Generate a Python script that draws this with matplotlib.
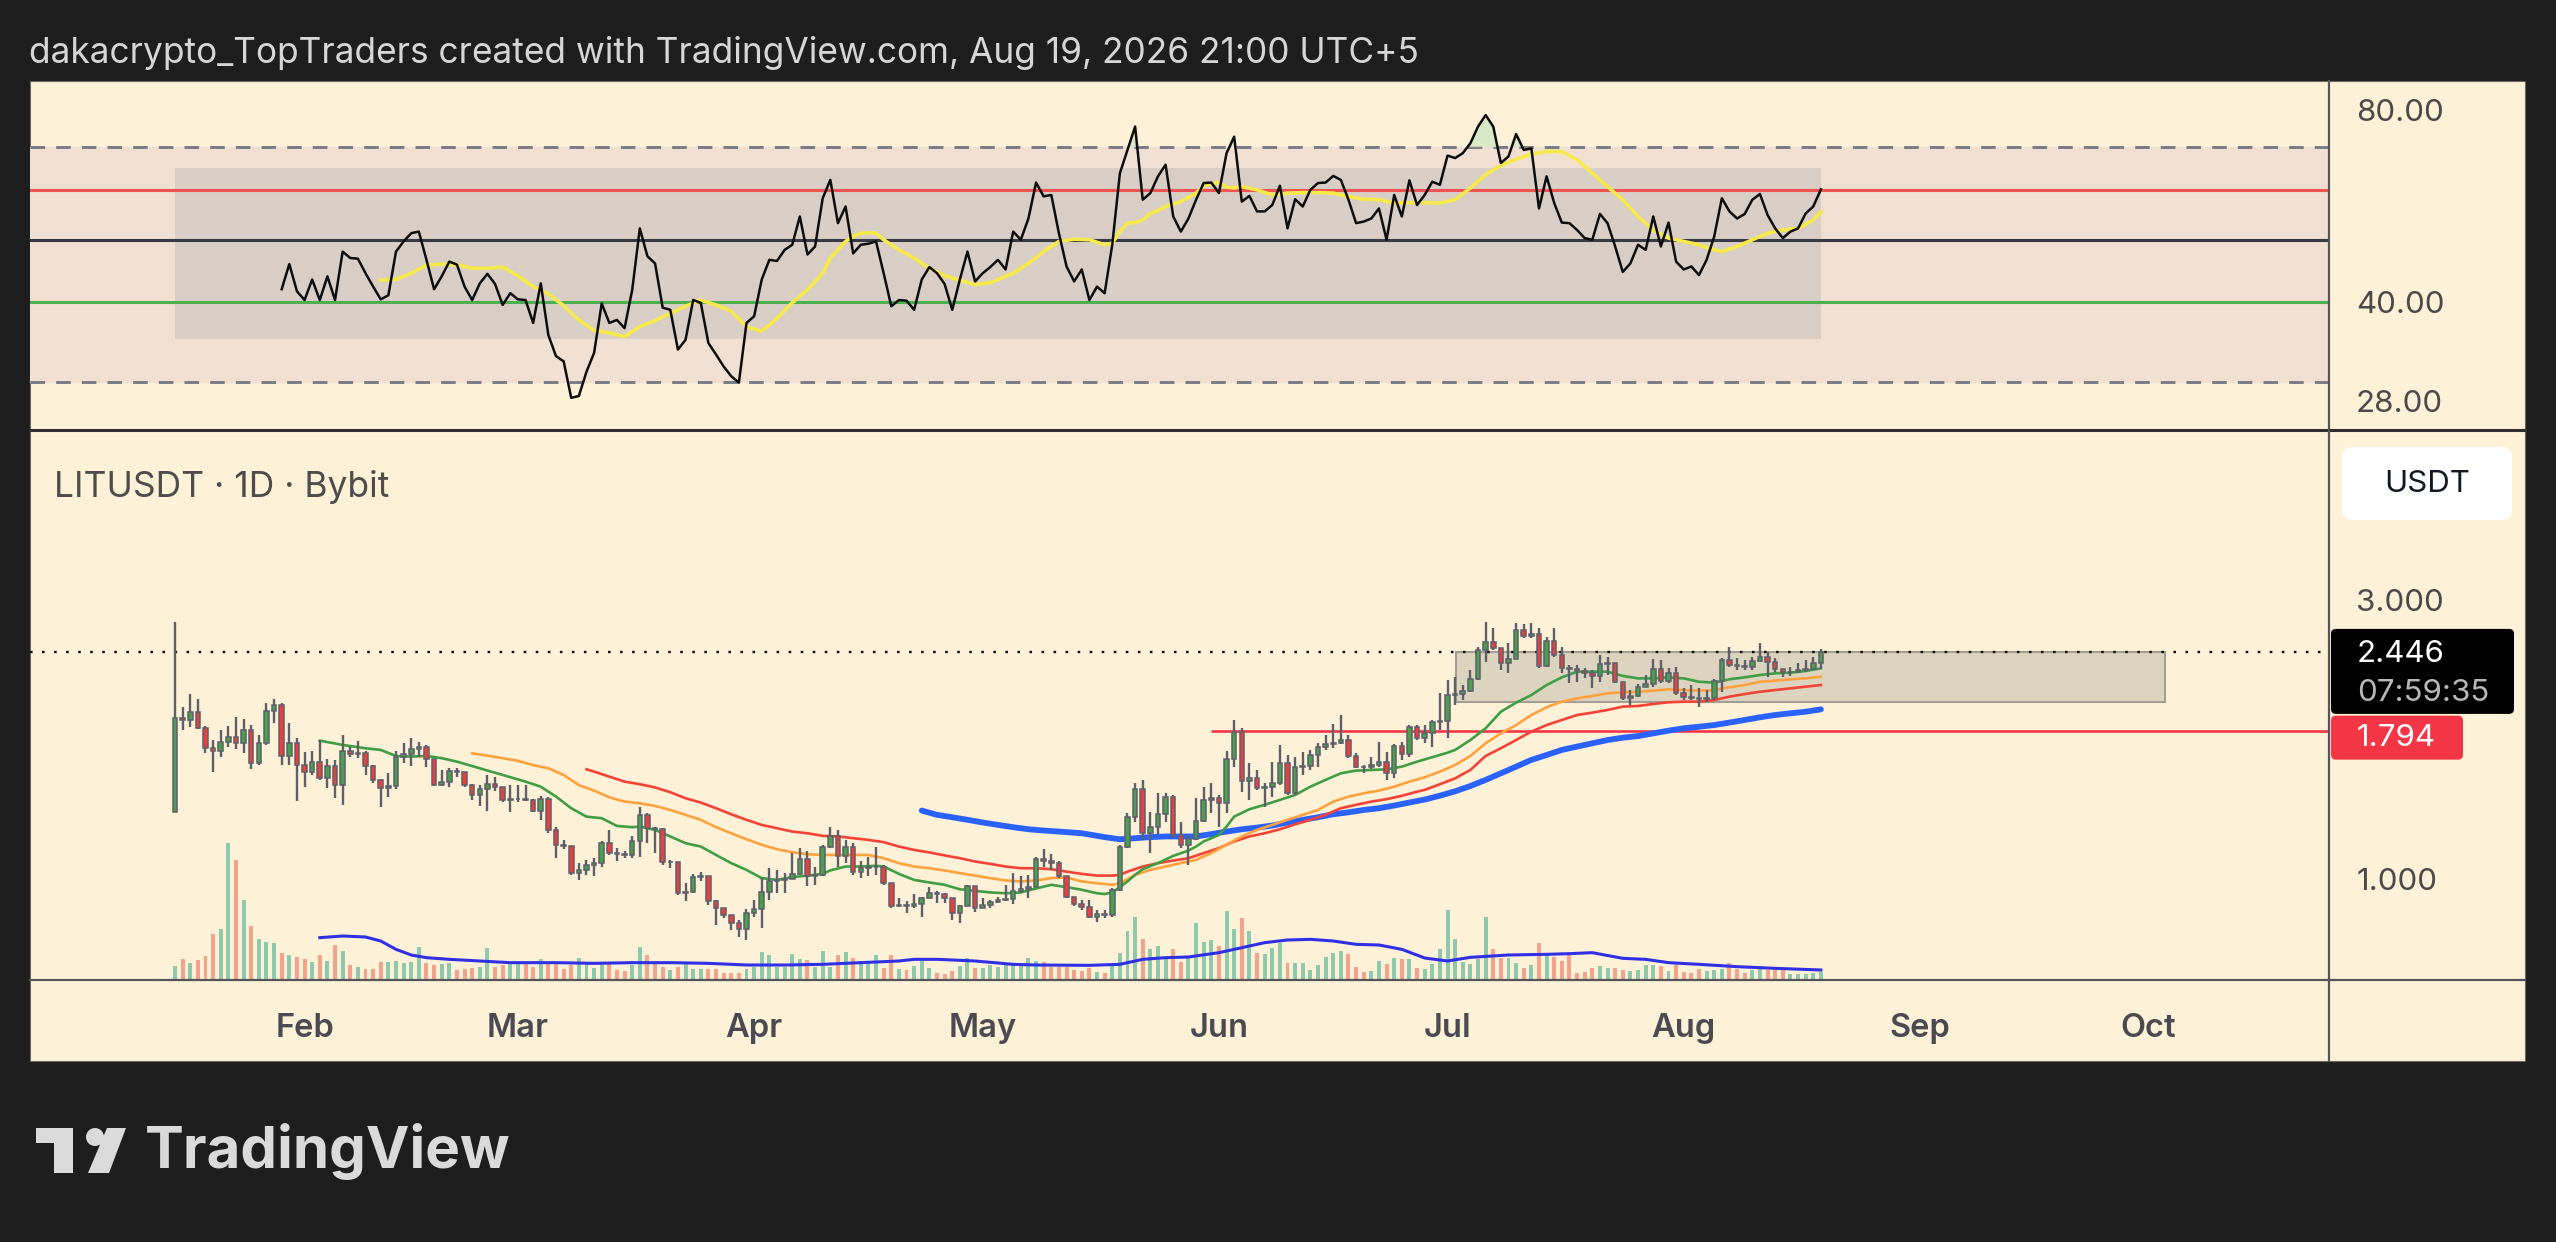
import numpy as np
import pandas as pd
import matplotlib
matplotlib.use('Agg')
import matplotlib.pyplot as plt
import matplotlib.dates as mdates
import matplotlib.ticker as mticker
from matplotlib.lines import Line2D
from matplotlib.patches import FancyBboxPatch, Rectangle, Polygon, Circle
from matplotlib.transforms import IdentityTransform

plt.rcParams['font.family'] = ['Inter', 'DejaVu Sans']

# ---------------- DATA (LITUSDT 1D, Bybit) ----------------
start_date = '2026-01-15'
first_open = 1.305
closes = [1.883, 1.871, 1.933, 1.811, 1.674, 1.659, 1.718, 1.747, 1.711, 1.799,
          1.582, 1.707, 1.941, 1.982, 1.624, 1.707, 1.567, 1.527, 1.584, 1.487,
          1.563, 1.448, 1.659, 1.637, 1.641, 1.561, 1.478, 1.430, 1.443, 1.620,
          1.637, 1.667, 1.685, 1.603, 1.448, 1.468, 1.533, 1.527, 1.448, 1.393,
          1.424, 1.454, 1.439, 1.366, 1.370, 1.371, 1.366, 1.310, 1.371, 1.214,
          1.145, 1.140, 1.024, 1.035, 1.058, 1.065, 1.152, 1.108, 1.105, 1.098,
          1.164, 1.288, 1.225, 1.217, 1.068, 1.069, 0.946, 0.950, 1.008, 1.011,
          0.916, 0.892, 0.869, 0.843, 0.821, 0.875, 0.888, 0.950, 0.991, 0.995,
          1.001, 1.021, 1.083, 1.014, 1.016, 1.137, 1.185, 1.096, 1.137, 1.027,
          1.044, 1.051, 1.051, 0.984, 0.898, 0.904, 0.901, 0.907, 0.928, 0.946,
          0.944, 0.928, 0.875, 0.898, 0.972, 0.892, 0.904, 0.913, 0.922, 0.924,
          0.953, 0.961, 0.969, 1.082, 1.076, 1.065, 1.011, 0.934, 0.907, 0.895,
          0.863, 0.872, 0.869, 0.959, 1.134, 1.279, 1.426, 1.198, 1.227, 1.292,
          1.380, 1.190, 1.145, 1.170, 1.259, 1.366, 1.375, 1.348, 1.603, 1.787,
          1.474, 1.487, 1.430, 1.435, 1.462, 1.578, 1.402, 1.557, 1.563, 1.630,
          1.681, 1.703, 1.711, 1.729, 1.624, 1.557, 1.553, 1.567, 1.588, 1.521,
          1.692, 1.637, 1.822, 1.740, 1.780, 1.859, 1.866, 2.065, 2.072, 2.100,
          2.199, 2.464, 2.546, 2.481, 2.344, 2.375, 2.666, 2.604, 2.621, 2.314,
          2.556, 2.416, 2.293, 2.284, 2.272, 2.248, 2.225, 2.332, 2.338, 2.175,
          2.037, 2.056, 2.133, 2.155, 2.287, 2.181, 2.254, 2.078, 2.045, 2.043,
          2.032, 2.043, 2.184, 2.369, 2.323, 2.314, 2.302, 2.357, 2.400, 2.353,
          2.284, 2.260, 2.263, 2.278, 2.287, 2.338, 2.446]
highs = [2.755, 1.967, 2.070, 2.032, 1.827, 1.729, 1.799, 1.827, 1.891, 1.876,
         1.834, 1.763, 1.998, 2.032, 1.998, 1.847, 1.740, 1.652, 1.659, 1.729,
         1.603, 1.599, 1.763, 1.685, 1.725, 1.659, 1.567, 1.482, 1.517, 1.659,
         1.711, 1.745, 1.718, 1.696, 1.603, 1.537, 1.547, 1.551, 1.521, 1.454,
         1.448, 1.507, 1.497, 1.439, 1.448, 1.448, 1.448, 1.370, 1.388, 1.380,
         1.230, 1.167, 1.140, 1.065, 1.079, 1.086, 1.160, 1.214, 1.130, 1.119,
         1.186, 1.327, 1.299, 1.230, 1.222, 1.079, 1.065, 0.984, 1.021, 1.027,
         1.004, 0.922, 0.892, 0.869, 0.852, 0.888, 0.922, 1.004, 1.044, 1.037,
         1.024, 1.108, 1.130, 1.115, 1.051, 1.145, 1.230, 1.214, 1.167, 1.152,
         1.072, 1.093, 1.137, 1.058, 0.984, 0.928, 0.916, 0.944, 0.934, 0.969,
         0.953, 0.946, 0.922, 0.904, 0.978, 0.972, 0.928, 0.922, 0.934, 0.978,
         1.024, 1.011, 1.017, 1.093, 1.125, 1.105, 1.072, 1.011, 0.928, 0.922,
         0.922, 0.886, 0.886, 0.966, 1.145, 1.296, 1.462, 1.478, 1.305, 1.402,
         1.406, 1.393, 1.254, 1.190, 1.375, 1.439, 1.458, 1.393, 1.659, 1.871,
         1.811, 1.578, 1.537, 1.458, 1.588, 1.696, 1.630, 1.620, 1.652, 1.663,
         1.707, 1.763, 1.842, 1.908, 1.763, 1.645, 1.567, 1.620, 1.718, 1.652,
         1.703, 1.718, 1.834, 1.834, 1.834, 1.871, 2.078, 2.190, 2.213, 2.147,
         2.278, 2.497, 2.755, 2.684, 2.481, 2.530, 2.737, 2.730, 2.737, 2.684,
         2.597, 2.684, 2.497, 2.323, 2.323, 2.293, 2.278, 2.416, 2.394, 2.323,
         2.175, 2.105, 2.155, 2.233, 2.375, 2.369, 2.293, 2.308, 2.119, 2.147,
         2.119, 2.105, 2.196, 2.384, 2.497, 2.384, 2.369, 2.394, 2.530, 2.448,
         2.384, 2.278, 2.308, 2.344, 2.369, 2.400, 2.470]
lows = [1.305, 1.799, 1.822, 1.804, 1.641, 1.527, 1.620, 1.685, 1.667, 1.641,
        1.541, 1.567, 1.696, 1.852, 1.567, 1.567, 1.362, 1.439, 1.507, 1.478,
        1.430, 1.375, 1.340, 1.620, 1.610, 1.507, 1.462, 1.331, 1.384, 1.424,
        1.578, 1.561, 1.620, 1.557, 1.443, 1.443, 1.439, 1.497, 1.439, 1.366,
        1.334, 1.310, 1.417, 1.357, 1.305, 1.357, 1.362, 1.305, 1.263, 1.198,
        1.086, 1.125, 1.017, 0.995, 1.017, 1.011, 1.051, 1.100, 1.072, 1.086,
        1.086, 1.093, 1.152, 1.108, 1.058, 1.044, 0.940, 0.916, 0.946, 0.991,
        0.904, 0.836, 0.858, 0.819, 0.796, 0.788, 0.863, 0.825, 0.922, 0.946,
        0.946, 1.004, 1.017, 0.972, 0.978, 1.014, 1.130, 1.051, 1.065, 1.017,
        1.004, 1.011, 1.017, 0.978, 0.892, 0.895, 0.875, 0.892, 0.863, 0.928,
        0.910, 0.910, 0.852, 0.841, 0.898, 0.880, 0.892, 0.892, 0.910, 0.916,
        0.907, 0.946, 0.928, 0.966, 1.051, 1.037, 1.004, 0.928, 0.898, 0.886,
        0.858, 0.846, 0.858, 0.863, 0.953, 1.130, 1.254, 1.167, 1.108, 1.190,
        1.254, 1.175, 1.130, 1.058, 1.167, 1.254, 1.296, 1.230, 1.296, 1.557,
        1.411, 1.366, 1.421, 1.331, 1.384, 1.448, 1.393, 1.393, 1.507, 1.537,
        1.557, 1.663, 1.674, 1.703, 1.610, 1.547, 1.517, 1.541, 1.557, 1.478,
        1.487, 1.599, 1.620, 1.729, 1.707, 1.685, 1.799, 1.740, 1.985, 2.024,
        2.091, 2.190, 2.353, 2.464, 2.278, 2.248, 2.375, 2.580, 2.580, 2.293,
        2.308, 2.400, 2.248, 2.161, 2.175, 2.204, 2.119, 2.175, 2.233, 2.161,
        2.024, 1.985, 2.051, 2.133, 2.128, 2.161, 2.161, 2.064, 2.024, 2.024,
        1.972, 2.011, 2.024, 2.091, 2.308, 2.278, 2.278, 2.278, 2.353, 2.219,
        2.263, 2.213, 2.225, 2.248, 2.263, 2.278, 2.284]
volumes = [42, 62, 50, 59, 72, 137, 152, 410, 359, 240,
           162, 122, 115, 110, 80, 74, 69, 62, 54, 74,
           57, 105, 87, 45, 39, 33, 33, 54, 54, 57,
           52, 55, 99, 52, 45, 49, 52, 30, 32, 35,
           39, 95, 39, 45, 49, 49, 52, 39, 62, 49,
           49, 32, 45, 65, 52, 35, 55, 55, 29, 27,
           45, 99, 75, 47, 40, 30, 39, 47, 34, 32,
           32, 34, 22, 20, 20, 34, 40, 84, 74, 40,
           39, 77, 62, 59, 40, 87, 39, 75, 84, 65,
           57, 55, 74, 35, 74, 34, 29, 42, 57, 35,
           20, 17, 27, 42, 67, 37, 37, 45, 40, 52,
           52, 42, 65, 57, 55, 40, 39, 39, 30, 27,
           37, 24, 22, 47, 80, 147, 189, 122, 92, 102,
           62, 92, 55, 65, 172, 114, 119, 102, 207, 152,
           185, 147, 82, 77, 95, 112, 52, 52, 50, 30,
           45, 69, 82, 87, 77, 39, 24, 27, 57, 49,
           67, 62, 62, 37, 32, 47, 92, 209, 122, 55,
           47, 62, 189, 92, 67, 65, 52, 37, 45, 110,
           75, 69, 57, 77, 22, 24, 35, 42, 35, 35,
           29, 27, 29, 45, 45, 42, 27, 45, 24, 22,
           32, 27, 29, 32, 50, 32, 22, 29, 32, 29,
           32, 29, 19, 17, 19, 22, 25]
vol_ma_days = [19, 22, 25, 27, 29, 31, 33, 36, 40, 44, 50, 55, 60, 65, 70, 75, 80, 85,
               90, 95, 97, 100, 105, 110, 113, 120, 124, 127, 130, 133, 137, 140, 143,
               146, 149, 152, 155, 158, 161, 164, 167, 170, 175, 180, 183, 186, 190,
               193, 196, 200, 205, 210, 216]
vol_ma = [127, 132, 129, 117, 92, 75, 67, 62, 57, 52, 52, 50, 52, 52, 50, 45, 45, 47,
          52, 57, 62, 62, 57, 47, 45, 44, 47, 62, 67, 69, 82, 97, 112,
          120, 122, 117, 107, 105, 92, 66, 57, 68, 75, 77, 79, 82, 65,
          62, 52, 47, 40, 35, 30]

# moving averages on price (day index, value)
ema_green_days = [19, 22, 25, 27, 29, 31, 33, 35, 37, 40, 43, 46, 48, 50, 52, 54, 56, 58,
                  60, 61, 63, 65, 67, 69, 71, 73, 75, 77, 79, 81, 83, 85, 86, 88, 90,
                  92, 93, 95, 97, 99, 101, 103, 105, 107, 109, 111, 113, 115, 117, 119,
                  121, 122, 123, 124, 125, 126, 127, 129, 131, 133, 134, 135, 137, 138,
                  139, 141, 143, 145, 147, 149, 151, 153, 155, 157, 159, 161, 163, 165,
                  167, 168, 170, 172, 174, 176, 178, 180, 182, 184, 186, 188, 190, 192,
                  194, 196, 198, 200, 202, 204, 206, 208, 210, 212, 214, 216]
ema_green = [1.725, 1.696, 1.674, 1.663, 1.624, 1.620, 1.624, 1.610, 1.588, 1.547,
             1.507, 1.468, 1.439, 1.384, 1.322, 1.279, 1.271, 1.233, 1.227, 1.230,
             1.214, 1.183, 1.152, 1.137, 1.100, 1.065, 1.037, 1.004, 0.997, 1.008,
             1.014, 1.021, 1.035, 1.051, 1.051, 1.054, 1.051, 1.021, 0.997, 0.987,
             0.978, 0.961, 0.955, 0.949, 0.946, 0.949, 0.964, 0.978, 0.969, 0.959,
             0.946, 0.943, 0.949, 0.969, 0.991, 1.017, 1.040, 1.065, 1.096, 1.119,
             1.137, 1.160, 1.190, 1.230, 1.279, 1.317, 1.340, 1.366, 1.393, 1.439,
             1.478, 1.517, 1.533, 1.537, 1.541, 1.557, 1.588, 1.616, 1.645, 1.663,
             1.729, 1.811, 1.933, 2.003, 2.064, 2.147, 2.213, 2.263, 2.263, 2.263,
             2.225, 2.204, 2.204, 2.213, 2.204, 2.175, 2.167, 2.196, 2.213, 2.233,
             2.248, 2.254, 2.269, 2.293]
ema_orange_days = [39, 41, 43, 45, 47, 49, 51, 53, 55, 57, 59, 61, 63, 65, 67, 69, 71, 73,
                   75, 77, 79, 81, 83, 85, 87, 89, 91, 93, 95, 97, 99, 101, 103, 105,
                   107, 109, 111, 113, 115, 117, 119, 121, 123, 124, 125, 126, 128, 130,
                   132, 134, 136, 138, 140, 142, 144, 146, 148, 150, 152, 154, 156, 158,
                   160, 162, 164, 166, 168, 170, 172, 174, 176, 178, 180, 182, 184, 186,
                   188, 190, 192, 194, 196, 198, 200, 202, 204, 206, 208, 210, 212, 214,
                   216]
ema_orange = [1.641, 1.626, 1.610, 1.593, 1.567, 1.547, 1.507, 1.448, 1.417, 1.380,
              1.357, 1.348, 1.334, 1.313, 1.288, 1.263, 1.227, 1.198, 1.170, 1.145,
              1.125, 1.112, 1.103, 1.100, 1.100, 1.100, 1.100, 1.086, 1.065, 1.051,
              1.044, 1.035, 1.024, 1.014, 1.004, 0.995, 0.991, 0.995, 1.004, 1.007,
              0.991, 0.984, 0.978, 0.984, 1.000, 1.017, 1.037, 1.051, 1.065, 1.079,
              1.108, 1.145, 1.183, 1.214, 1.238, 1.263, 1.288, 1.313, 1.357, 1.384,
              1.402, 1.417, 1.439, 1.468, 1.493, 1.527, 1.567, 1.624, 1.707, 1.775,
              1.834, 1.908, 1.967, 2.011, 2.037, 2.056, 2.078, 2.086, 2.091, 2.100,
              2.111, 2.105, 2.100, 2.105, 2.128, 2.147, 2.175, 2.184, 2.196, 2.204,
              2.219]
ema_red_days = [54, 55, 57, 59, 61, 63, 65, 67, 69, 71, 73, 75, 77, 79, 81, 83, 85, 87,
                89, 91, 93, 95, 97, 99, 101, 103, 105, 107, 109, 111, 113, 115, 117, 119,
                121, 123, 124, 125, 127, 129, 131, 133, 135, 137, 139, 141, 143, 145,
                147, 149, 151, 153, 155, 157, 159, 161, 163, 164, 166, 168, 170, 172,
                174, 176, 178, 180, 182, 184, 186, 188, 190, 192, 194, 196, 198, 200,
                202, 204, 206, 208, 210, 212, 214, 216]
ema_red = [1.541, 1.527, 1.497, 1.468, 1.453, 1.435, 1.408, 1.375, 1.352, 1.322,
           1.291, 1.263, 1.238, 1.222, 1.206, 1.198, 1.186, 1.183, 1.175, 1.167,
           1.157, 1.137, 1.122, 1.111, 1.098, 1.086, 1.072, 1.062, 1.051, 1.044,
           1.044, 1.040, 1.030, 1.021, 1.014, 1.014, 1.017, 1.030, 1.051, 1.065,
           1.076, 1.086, 1.108, 1.130, 1.160, 1.183, 1.198, 1.217, 1.241, 1.263,
           1.288, 1.322, 1.340, 1.357, 1.370, 1.388, 1.411, 1.421, 1.453, 1.487,
           1.537, 1.624, 1.674, 1.729, 1.787, 1.834, 1.871, 1.908, 1.926, 1.946,
           1.972, 1.977, 1.993, 2.006, 2.011, 2.011, 2.024, 2.051, 2.072, 2.091,
           2.105, 2.119, 2.133, 2.147]
ema_blue_days = [98, 100, 102, 104, 106, 108, 110, 112, 114, 116, 119, 122, 124, 126, 128,
                 130, 132, 134, 136, 138, 140, 142, 144, 146, 148, 150, 152, 154, 156,
                 158, 160, 162, 164, 166, 168, 170, 172, 174, 176, 178, 180, 182, 184,
                 186, 188, 190, 192, 194, 196, 198, 200, 202, 204, 206, 208, 210, 212,
                 214, 216]
ema_blue = [1.310, 1.288, 1.276, 1.263, 1.250, 1.238, 1.227, 1.217, 1.211, 1.206,
            1.198, 1.180, 1.170, 1.175, 1.180, 1.183, 1.183, 1.183, 1.194, 1.206,
            1.217, 1.225, 1.235, 1.250, 1.263, 1.276, 1.291, 1.301, 1.313, 1.322,
            1.336, 1.352, 1.368, 1.389, 1.413, 1.443, 1.478, 1.517, 1.557, 1.599,
            1.630, 1.663, 1.685, 1.707, 1.729, 1.745, 1.756, 1.775, 1.794, 1.811,
            1.822, 1.834, 1.852, 1.871, 1.891, 1.908, 1.921, 1.933, 1.951]

# RSI (14) from day 14, and its moving average
rsi_first_day = 14
rsi = [41.9, 45.9, 41.6, 40.3, 43.4, 40.3, 43.9, 40.3, 48.0, 46.9,
       46.8, 44.4, 42.3, 40.4, 41.0, 48.0, 49.8, 51.3, 51.6, 46.6,
       41.9, 43.9, 46.3, 45.8, 42.3, 40.3, 42.8, 44.3, 42.7, 39.6,
       41.3, 40.4, 40.3, 37.1, 42.8, 35.5, 32.9, 32.3, 28.3, 28.5,
       31.1, 33.3, 39.8, 37.1, 37.5, 36.4, 41.8, 52.2, 47.2, 46.0,
       39.2, 38.9, 33.7, 34.9, 40.3, 39.9, 34.5, 33.1, 31.7, 30.6,
       29.9, 37.1, 38.0, 43.4, 46.6, 46.4, 48.3, 49.2, 54.5, 47.5,
       48.9, 58.2, 62.2, 53.2, 56.5, 47.7, 49.2, 49.4, 49.8, 44.4,
       39.4, 40.3, 40.2, 38.9, 43.4, 45.4, 44.4, 42.7, 38.9, 43.4,
       48.0, 43.1, 44.4, 45.4, 46.6, 45.0, 51.6, 50.1, 54.1, 61.6,
       58.6, 58.9, 51.3, 45.5, 43.1, 45.0, 40.3, 42.3, 41.3, 49.2,
       63.7, 69.3, 75.4, 57.9, 59.3, 63.0, 65.7, 54.5, 51.6, 54.1,
       57.9, 61.5, 61.6, 59.3, 68.5, 72.7, 57.5, 58.7, 55.5, 55.5,
       56.8, 60.9, 52.2, 58.0, 56.5, 60.0, 61.5, 61.6, 63.1, 62.2,
       57.9, 53.2, 53.5, 54.1, 56.1, 50.1, 58.9, 54.5, 62.1, 56.8,
       58.9, 61.8, 61.1, 67.9, 67.3, 68.5, 71.0, 75.4, 78.6, 75.4,
       66.1, 67.7, 73.4, 69.3, 69.7, 56.1, 63.0, 57.2, 53.3, 53.2,
       51.9, 50.4, 50.1, 55.0, 53.2, 48.9, 44.6, 46.0, 49.2, 48.3,
       54.5, 48.9, 53.3, 46.3, 45.0, 45.5, 44.1, 46.6, 50.7, 58.2,
       55.5, 54.1, 55.0, 57.9, 59.1, 54.8, 52.2, 50.4, 51.6, 52.2,
       55.1, 56.5, 60.1]
rsi_ma_days = [27, 29, 31, 33, 35, 37, 39, 41, 43, 45, 47, 49, 51, 53, 55, 57, 59, 61,
               63, 65, 67, 69, 71, 73, 75, 77, 79, 81, 83, 85, 86, 87, 88, 89, 90, 91,
               92, 93, 95, 97, 99, 101, 103, 105, 107, 108, 110, 112, 114, 116, 118,
               120, 122, 123, 124, 125, 126, 127, 128, 129, 130, 132, 134, 135, 136,
               137, 138, 139, 140, 142, 144, 146, 148, 150, 152, 154, 156, 158, 160,
               162, 164, 166, 168, 170, 172, 174, 176, 178, 180, 182, 184, 186, 188,
               190, 192, 194, 196, 198, 200, 202, 203, 205, 207, 209, 211, 213, 215, 216]
rsi_ma = [43.3, 43.4, 44.4, 45.7, 45.9, 45.8, 45.2, 45.2, 45.4, 44.0,
          42.3, 41.2, 39.5, 37.5, 36.1, 35.8, 35.3, 36.6, 37.4, 38.4,
          39.4, 40.3, 39.6, 38.7, 36.6, 36.0, 37.7, 39.9, 41.8, 44.4,
          46.9, 48.3, 49.8, 50.7, 51.3, 51.4, 51.3, 50.1, 48.3, 46.9,
          45.2, 44.0, 43.3, 42.6, 42.9, 43.4, 44.4, 46.0, 48.0, 49.8,
          50.2, 50.1, 49.2, 49.5, 51.6, 53.2, 53.3, 53.8, 55.1, 55.7,
          56.5, 57.5, 59.3, 60.9, 61.3, 61.6, 60.6, 60.4, 60.7, 60.0,
          58.9, 59.3, 59.4, 59.4, 59.3, 58.6, 58.0, 57.9, 57.2, 57.3,
          57.3, 57.2, 57.9, 60.4, 63.4, 65.5, 67.0, 68.3, 68.9, 68.9,
          66.9, 63.7, 60.7, 57.9, 54.5, 51.9, 50.4, 49.8, 49.2, 48.3,
          48.0, 48.9, 50.1, 51.3, 51.9, 52.2, 53.8, 55.4]
rsi_levels = [70, 60, 50, 40, 30]
rsi_box = [35, 65]
rsi_ticks = [28, 40, 80]

# drawings on the price pane
level_price = 1.794
level_start_day = 136
zone_days = [168.1, 261.2]
zone_prices = [2.010, 2.448]
price_ticks = [1.0, 3.0]
month_names = ['Feb', 'Mar', 'Apr', 'May', 'Jun', 'Jul', 'Aug', 'Sep', 'Oct']
countdown = '07:59:35'
title = 'dakacrypto_TopTraders created with TradingView.com, Aug 19, 2026 21:00 UTC+5'
symbol = 'LITUSDT \u00b7 1D \u00b7 Bybit'

# ---------------- LAYOUT ----------------
W, H = 2556, 1242
BG = '#1e1e1e'
CREAM = '#fdf1d7'
fig = plt.figure(figsize=(W / 100, H / 100), dpi=100, facecolor=BG)


def box(x0, y0, x1, y1):
    # pixel box, top-left origin -> figure fraction rect
    return [x0 / W, 1 - y1 / H, (x1 - x0) / W, (y1 - y0) / H]


def fline(x0, y0, x1, y1, color, lw):
    fig.add_artist(Line2D([x0 / W, x1 / W], [1 - y0 / H, 1 - y1 / H],
                          transform=fig.transFigure, color=color, lw=lw, zorder=5))


panel = Rectangle((30 / W, 1 - 1061 / H), 2495 / W, 980 / H,
                  transform=fig.transFigure, fc=CREAM, ec='#6a6a6a', lw=0.8, zorder=-5)
fig.add_artist(panel)

base = mdates.date2num(pd.Timestamp(start_date))
n = len(closes)
x = base + np.arange(n)
xlim = (base - 19.03, base + 282.68)

closes = np.array(closes)
highs = np.array(highs)
lows = np.array(lows)
opens = np.r_[first_open, closes[:-1]]
up = closes >= opens

# ---------------- RSI pane ----------------
ax_r = fig.add_axes(box(30, 81, 2329, 430))
ax_r.set_facecolor('none')
ax_r.set_yscale('log')
ax_r.set_ylim(25.2, 88.9)
ax_r.set_xlim(*xlim)
ax_r.axhspan(rsi_levels[-1], rsi_levels[0], color='#f1e0d2', zorder=0)
ax_r.fill_between([x[0], x[-1]], rsi_box[0], rsi_box[1], color='#d8cec6', lw=0, zorder=1)
ax_r.axhline(rsi_levels[0], color='#787b86', lw=2.1, ls=(0, (5, 3.8)), zorder=2)
ax_r.axhline(rsi_levels[4], color='#787b86', lw=2.1, ls=(0, (5, 3.8)), zorder=2)
ax_r.axhline(rsi_levels[1], color='#f05350', lw=2.2, zorder=2)
ax_r.axhline(rsi_levels[2], color='#363a45', lw=2.2, zorder=2)
ax_r.axhline(rsi_levels[3], color='#4caf50', lw=2.2, zorder=2)
rx = base + rsi_first_day + np.arange(len(rsi))
rv = np.array(rsi)
ax_r.fill_between(rx, rsi_levels[0], rv, where=rv > rsi_levels[0],
                  interpolate=True, color='#cfe8c5', alpha=0.8, lw=0, zorder=2)
ax_r.plot(base + np.array(rsi_ma_days), rsi_ma, color='#f7e94a', lw=2.6, zorder=3)
ax_r.plot(rx, rv, color='#0d0d0d', lw=1.8, zorder=4)
ax_r.yaxis.tick_right()
ax_r.set_yticks(rsi_ticks)
ax_r.set_yticklabels(['%.2f' % t for t in rsi_ticks])
ax_r.yaxis.set_minor_locator(mticker.NullLocator())
ax_r.tick_params(axis='y', length=0, pad=19.5, labelsize=22.5, labelcolor='#4a4a4a')
ax_r.set_xticks([])
for s in ax_r.spines.values():
    s.set_visible(False)

# ---------------- price pane ----------------
ax_v = fig.add_axes(box(30, 430, 2329, 980))
ax_v.set_facecolor('none')
ax_v.set_xlim(*xlim)
ax_v.set_ylim(0, 1650)
vcol = np.where(up, '#8ec9ae', '#f2a38c')
ax_v.bar(x, volumes, width=0.52, color=vcol, lw=0)
ax_v.plot(base + np.array(vol_ma_days), vol_ma, color='#2f2fe6', lw=2.2)
ax_v.set_xticks([])
ax_v.set_yticks([])
for s in ax_v.spines.values():
    s.set_visible(False)

ax = fig.add_axes(box(30, 430, 2329, 980))
ax.set_facecolor('none')
ax.set_yscale('log')
ax.set_ylim(0.6724, 5.858)
ax.set_xlim(*xlim)

ax.add_patch(Rectangle((base + zone_days[0], zone_prices[0]), zone_days[1] - zone_days[0],
                       zone_prices[1] - zone_prices[0], fc='#ddd4bf', ec='#a39e94', lw=1.5, zorder=1))
ax.axhline(closes[-1], color='#111111', lw=1.7, ls=(0, (1.1, 4.0)), zorder=2)
ax.hlines(level_price, base + level_start_day, xlim[1], color='#f23645', lw=1.9, zorder=2)

ax.plot(base + np.array(ema_blue_days), ema_blue, color='#2962ff', lw=4.2,
        solid_capstyle='round', zorder=3)
ax.plot(base + np.array(ema_red_days), ema_red, color='#f44336', lw=1.9, zorder=3)
ax.plot(base + np.array(ema_orange_days), ema_orange, color='#ffa23e', lw=1.9, zorder=3)
ax.plot(base + np.array(ema_green_days), ema_green, color='#3f9e44', lw=1.9, zorder=3)

ax.vlines(x, lows, highs, color='#5d606b', lw=1.7, zorder=4)
body_lo = np.minimum(opens, closes)
body_h = np.abs(closes - opens)
ax.bar(x, body_h, bottom=body_lo, width=0.6, color=np.where(up, '#4a9e4e', '#e8403f'),
       edgecolor='#5d606b', lw=1.1, zorder=5)

ax.yaxis.tick_right()
ax.set_yticks(price_ticks)
ax.set_yticklabels(['%.3f' % t for t in price_ticks])
ax.yaxis.set_minor_locator(mticker.NullLocator())
ax.tick_params(axis='y', length=0, pad=19.5, labelsize=22.5, labelcolor='#4a4a4a')
month_x = [mdates.date2num(pd.Timestamp('2026-%02d-01' % m)) for m in range(2, 11)]
ax.set_xticks(month_x)
ax.set_xticklabels(month_names)
ax.xaxis.set_minor_locator(mticker.NullLocator())
ax.tick_params(axis='x', length=0, pad=24, labelsize=23.5, labelcolor='#4a4a52')
for lab in ax.get_xticklabels():
    lab.set_fontweight('semibold')
for s in ax.spines.values():
    s.set_visible(False)

# separators
fline(30, 430, 2525, 430, '#2f2f35', 2.2)
fline(30, 980, 2525, 980, '#55555c', 1.6)
fline(2329, 81, 2329, 1061, '#55555c', 1.6)

# ---------------- texts & labels ----------------
fig.text(29 / W, 1 - 53 / H, title, color='#d6d6d6', fontsize=25.4, va='center', ha='left')
fig.text(54 / W, 1 - 487 / H, symbol, color='#4d4d4d', fontsize=25.5, va='center', ha='left')

ident = IdentityTransform()
fig.add_artist(FancyBboxPatch((2342, H - 520), 170, 73, boxstyle='round,pad=0,rounding_size=10',
                              transform=ident, fc='white', ec='none', zorder=6))
fig.text(2427 / W, 1 - 484 / H, 'USDT', color='#131722', fontsize=22.5, ha='center',
         va='center', zorder=7)

y_last = H - ax.transData.transform((x[-1], closes[-1]))[1]
fig.add_artist(FancyBboxPatch((2331, H - (y_last + 62)), 183, 85,
                              boxstyle='round,pad=0,rounding_size=5', transform=ident,
                              fc='black', ec='none', zorder=6))
fig.text(2357 / W, 1 - (y_last + 2) / H, '%.3f' % closes[-1], color='white', fontsize=22.5,
         ha='left', va='center', zorder=7)
fig.text(2357 / W, 1 - (y_last + 41) / H, countdown, color='#b8b8b8', fontsize=22.5,
         ha='left', va='center', zorder=7)

y_lvl = H - ax.transData.transform((x[-1], level_price))[1]
fig.add_artist(FancyBboxPatch((2331, H - (y_lvl + 29)), 132, 44,
                              boxstyle='round,pad=0,rounding_size=5', transform=ident,
                              fc='#f23645', ec='none', zorder=6))
fig.text(2357 / W, 1 - (y_lvl + 7) / H, '%.3f' % level_price, color='white', fontsize=22.5,
         ha='left', va='center', zorder=7)

# TradingView logo
logo_c = '#dadada'
fig.add_artist(Polygon([(36, H - 1128), (73, H - 1128), (73, H - 1173), (54, H - 1173),
                        (54, H - 1143), (36, H - 1143)], closed=True, transform=ident,
                       fc=logo_c, ec='none'))
fig.add_artist(Circle((95, H - 1137), 9, transform=ident, fc=logo_c, ec='none'))
fig.add_artist(Polygon([(107, H - 1128), (126, H - 1128), (109, H - 1173), (88, H - 1173)],
                       closed=True, transform=ident, fc=logo_c, ec='none'))
fig.text(145 / W, 1 - 1151 / H, 'TradingView', color=logo_c, fontsize=42, fontweight='bold',
         ha='left', va='center')

fig.savefig('out.png', dpi=100, facecolor=BG)
